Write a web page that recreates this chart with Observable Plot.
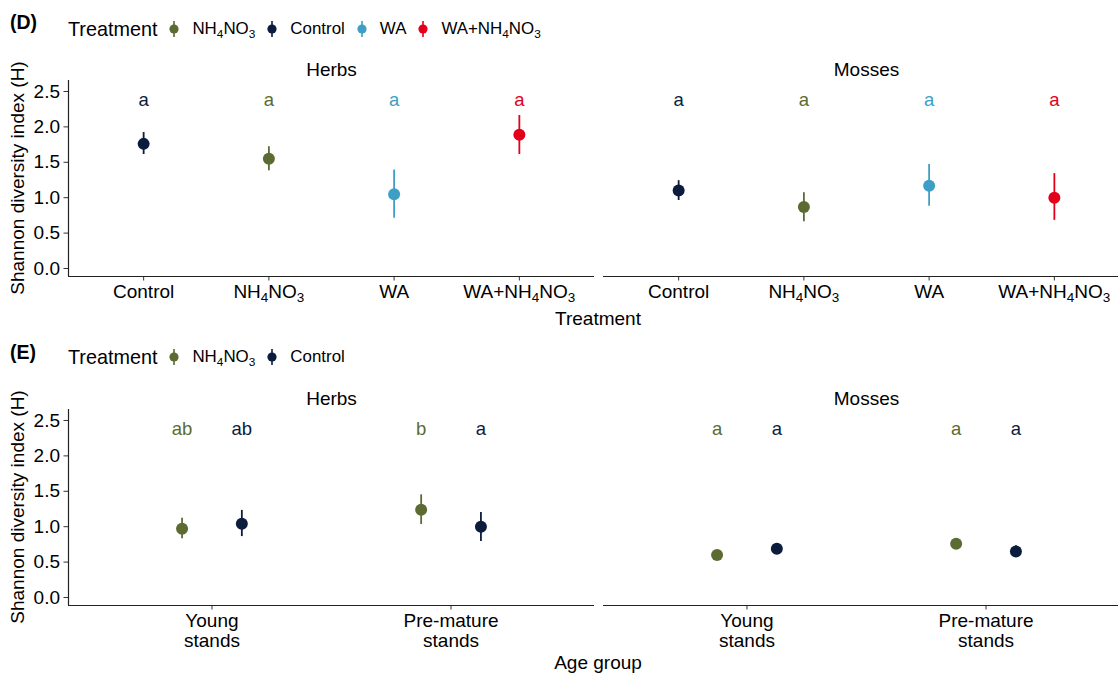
<!DOCTYPE html>
<html>
<head>
<meta charset="utf-8">
<script src="https://cdn.jsdelivr.net/npm/d3@7"></script>
<script src="https://cdn.jsdelivr.net/npm/@observablehq/plot@0.6"></script>
<style>
  html, body { margin: 0; padding: 0; background: #fff; }
  #root { position: relative; width: 1118px; height: 675px; overflow: hidden; font-family: "Liberation Sans", Arial, Helvetica, sans-serif; color: #000; }
  .abs { position: absolute; white-space: nowrap; }
  .tag { font-weight: bold; font-size: 19.5px; line-height: 22px; }
  .legend { display: flex; align-items: center; height: 22px; line-height: 22px; }
  .legend .ttl { font-size: 19.8px; }
  .legend .key { display: inline-block; width: 10px; height: 16px; margin-left: 12px; margin-right: 13px; }
  .legend .lab { font-size: 16.9px; }
  .legend sub { font-size: 70%; vertical-align: -0.3em; line-height: 0; }
  .axt { font-size: 19px; line-height: 22px; transform: translate(-50%, -50%); }
  .axty { font-size: 19px; line-height: 22px; transform: translate(-50%, -50%) rotate(-90deg); }
  svg { max-width: none !important; }
</style>
</head>
<body>
<div id="root"></div>
<script>
// ---------------- data ----------------
const colorDomain = ["NH4NO3", "Control", "WA", "WA+NH4NO3"];
const colorRange  = ["#5b6b32", "#0b1c3d", "#3d9fc5", "#e3001b"];
const panels = ["Herbs", "Mosses"];
const yTicks = [0, 0.5, 1.0, 1.5, 2.0, 2.5];

// (D) treatment comparison
const treatD = ["Control", "NH4NO3", "WA", "WA+NH4NO3"];
const herbsMeanD = [1.76, 1.55, 1.05, 1.89];
const herbsLoD   = [1.61, 1.38, 0.71, 1.61];
const herbsHiD   = [1.92, 1.72, 1.39, 2.16];
const mossMeanD  = [1.10, 0.87, 1.17, 1.00];
const mossLoD    = [0.96, 0.66, 0.88, 0.68];
const mossHiD    = [1.24, 1.07, 1.47, 1.34];
const herbsLetD  = ["a", "a", "a", "a"];
const mossLetD   = ["a", "a", "a", "a"];

// (E) age group comparison
const ageGroups = ["Young\nstands", "Pre-mature\nstands"];
const treatE = ["NH4NO3", "Control"];
// order: [Young-NH4NO3, Young-Control, Pre-NH4NO3, Pre-Control]
const herbsMeanE = [0.97, 1.04, 1.24, 1.00];
const herbsLoE   = [0.83, 0.86, 1.03, 0.79];
const herbsHiE   = [1.12, 1.23, 1.45, 1.20];
const mossMeanE  = [0.60, 0.69, 0.76, 0.65];
const mossLoE    = [0.56, 0.66, 0.69, 0.58];
const mossHiE    = [0.63, 0.73, 0.83, 0.73];
const herbsLetE  = ["ab", "ab", "b", "a"];
const mossLetE   = ["a", "a", "a", "a"];

// ---------------- layout constants ----------------
const yDomain = [-0.113, 2.655];
const letterY = 2.38;
const dodge = 0.125;
const W = 1129, ML = 68, panelW = 526, gap = 9;

// ---------------- build rows ----------------
const rowsD = [];
treatD.forEach((t, i) => {
  rowsD.push({panel: "Herbs", x: i, treat: t, mean: herbsMeanD[i], lo: herbsLoD[i], hi: herbsHiD[i], letter: herbsLetD[i]});
  rowsD.push({panel: "Mosses", x: i, treat: t, mean: mossMeanD[i], lo: mossLoD[i], hi: mossHiD[i], letter: mossLetD[i]});
});
const rowsE = [];
ageGroups.forEach((a, ai) => {
  treatE.forEach((t, ti) => {
    const k = ai * 2 + ti;
    const x = ai + (ti === 0 ? -dodge : dodge);
    rowsE.push({panel: "Herbs", x, treat: t, mean: herbsMeanE[k], lo: herbsLoE[k], hi: herbsHiE[k], letter: herbsLetE[k]});
    rowsE.push({panel: "Mosses", x, treat: t, mean: mossMeanE[k], lo: mossLoE[k], hi: mossHiE[k], letter: mossLetE[k]});
  });
});

function makePlot(rows, height, xDomain, xTicks, xFormat) {
  const step = panelW + gap;
  return Plot.plot({
    width: W, height,
    marginLeft: ML, marginRight: 0, marginTop: 32, marginBottom: height - 228,
    style: {fontFamily: '"Liberation Sans", Arial, Helvetica, sans-serif', fontSize: "19px", color: "#000", background: "#fff", overflow: "visible", maxWidth: "none"},
    fx: {domain: panels, paddingInner: gap / step, paddingOuter: 0, label: null},
    x: {domain: xDomain},
    y: {domain: yDomain},
    color: {domain: colorDomain, range: colorRange},
    marks: [
      Plot.axisFx({anchor: "top", tickSize: 0, tickPadding: 5, label: null, fontSize: 19}),
      Plot.axisY({ticks: yTicks, tickFormat: d3.format(".1f"), tickSize: 4.5, tickPadding: 4, label: null, fontSize: 19, stroke: "#333"}),
      Plot.axisX({ticks: xTicks, tickFormat: xFormat, tickSize: 4.5, tickPadding: 3, label: null, fontSize: 19, lineHeight: 1.05, stroke: "#333"}),
      Plot.ruleY([yDomain[0]], {stroke: "#222", strokeWidth: 1.2}),
      Plot.ruleX([{p: panels[0]}], {x: xDomain[0], fx: "p", y1: yDomain[0], y2: yDomain[1], stroke: "#222", strokeWidth: 1.2}),
      Plot.ruleX(rows, {x: "x", y1: "lo", y2: "hi", fx: "panel", stroke: "treat", strokeWidth: 1.8}),
      Plot.dot(rows, {x: "x", y: "mean", fx: "panel", fill: "treat", r: 6}),
      Plot.text(rows, {x: "x", y: letterY, text: "letter", fx: "panel", fill: "treat", fontSize: 18.5})
    ]
  });
}

function subscriptify(svg) {
  svg.querySelectorAll("text").forEach(t => {
    if (t.querySelector("tspan")) return;
    const s = t.textContent;
    if (!/NH4NO3/.test(s)) return;
    t.textContent = "";
    const parts = s.split(/(\d)/).filter(p => p !== "");
    let shifted = false;
    parts.forEach(p => {
      const ts = document.createElementNS("http://www.w3.org/2000/svg", "tspan");
      ts.textContent = p;
      if (/^\d$/.test(p)) {
        ts.setAttribute("font-size", "13.5");
        ts.setAttribute("dy", "4");
        shifted = true;
      } else if (shifted) {
        ts.setAttribute("dy", "-4");
        shifted = false;
      }
      t.appendChild(ts);
    });
  });
}

function chem(s) {
  return s.replace(/(\d)/g, "<sub>$1</sub>");
}

function legendHTML(items) {
  let h = '<span class="ttl">Treatment</span>';
  items.forEach(name => {
    const c = colorRange[colorDomain.indexOf(name)];
    h += '<svg class="key" viewBox="0 0 10 16"><line x1="5" x2="5" y1="0" y2="16" stroke="' + c + '" stroke-width="1.6"/><circle cx="5" cy="8" r="4.6" fill="' + c + '"/></svg>';
    h += '<span class="lab">' + chem(name) + '</span>';
  });
  return h;
}

const root = document.getElementById("root");
function addDiv(cls, html, left, top) {
  const d = document.createElement("div");
  d.className = "abs " + cls;
  d.innerHTML = html;
  d.style.left = left + "px";
  d.style.top = top + "px";
  root.appendChild(d);
  return d;
}

// Panel D
const plotD = makePlot(rowsD, 290, [-0.6, 3.6], d3.range(treatD.length), i => treatD[i]);
plotD.style.position = "absolute"; plotD.style.left = "0px"; plotD.style.top = "48px"; plotD.style.maxWidth = "none";
root.appendChild(plotD);
subscriptify(plotD);

// Panel E
const plotE = makePlot(rowsE, 298, [-0.6, 1.6], d3.range(ageGroups.length), i => ageGroups[i]);
plotE.style.position = "absolute"; plotE.style.left = "0px"; plotE.style.top = "377px"; plotE.style.maxWidth = "none";
root.appendChild(plotE);

// headers, legends, axis titles
addDiv("tag", "(D)", 10, 11);
addDiv("legend", legendHTML(colorDomain), 68, 18);
addDiv("tag", "(E)", 10, 341);
addDiv("legend", legendHTML(treatE), 68, 346);

addDiv("axt", "Treatment", 598, 319);
addDiv("axt", "Age group", 598, 663);
addDiv("axty", "Shannon diversity index (H)", 18, 178);
addDiv("axty", "Shannon diversity index (H)", 18, 507);
</script>
</body>
</html>
